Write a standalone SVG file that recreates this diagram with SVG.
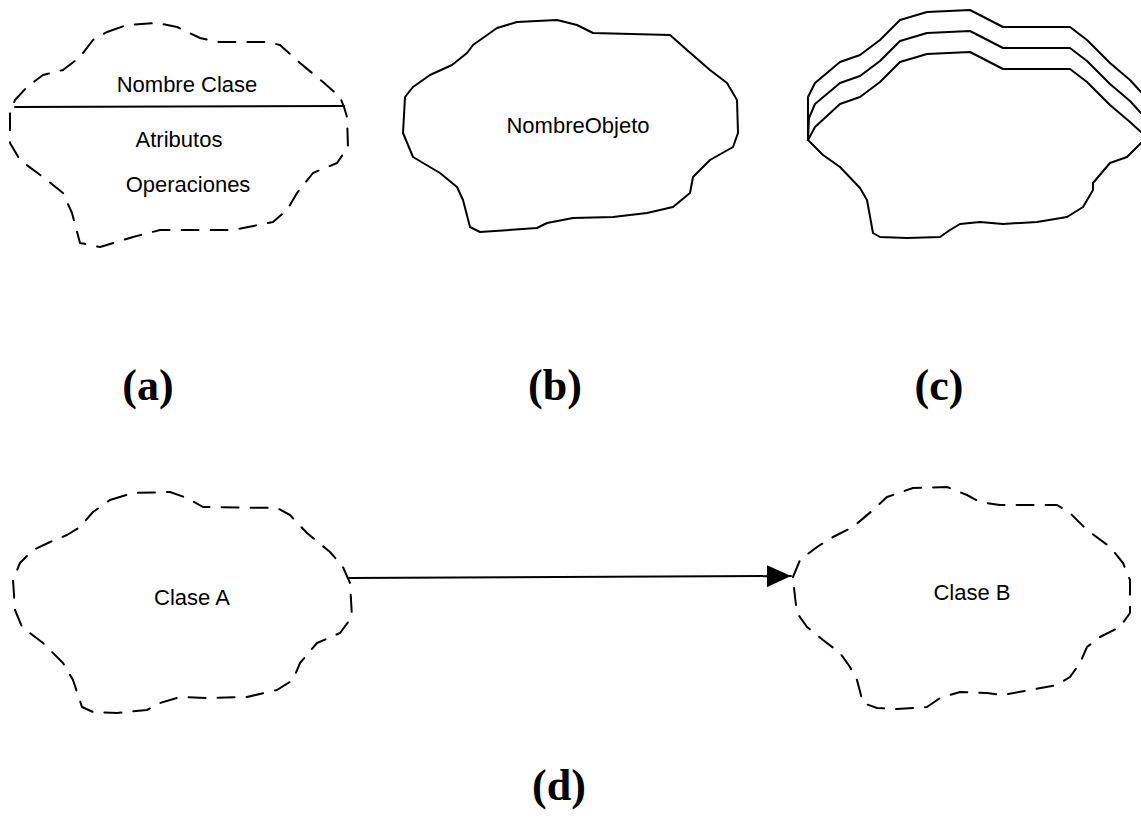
<svg xmlns="http://www.w3.org/2000/svg" width="1141" height="818" viewBox="0 0 1141 818">
<style>
.bg{fill:#fff}
.dash{fill:none;stroke:#000;stroke-width:2;stroke-dasharray:17 12;stroke-linejoin:round;stroke-linecap:round}
.solid{fill:none;stroke:#000;stroke-width:2;stroke-linejoin:round;stroke-linecap:round}
.lbl{font-family:"Liberation Sans",Arial,sans-serif;font-size:22px;fill:#000;text-anchor:middle}
.cap{font-family:"Liberation Serif","Times New Roman",serif;font-size:44px;font-weight:bold;fill:#000;text-anchor:middle}
</style>
<defs>
<marker id="arr" markerUnits="userSpaceOnUse" markerWidth="24" markerHeight="22" refX="24" refY="11" orient="auto">
<path d="M0,0 L24,11 L0,22 Z" fill="#000"/>
</marker>
</defs>
<rect class="bg" x="0" y="0" width="1141" height="818"/>

<g id="node-a">
<path class="dash" d="M107,32 L127,25 L157,23 L177,27 L200,38 L217,42 L267,42 L280,45 L300,63 L323,82 L340,97 L344,107 L347,117 L348,147 L337,163 L313,173 L297,193 L287,210 L273,222 L233,230 L200,230 L160,230 L133,237 L100,247 L80,243 L72,213 L63,193 L43,177 L20,160 L10,143 L10,113 L15,100 L27,87 L43,75 L63,70 L80,57 L93,40 Z"/>
<path class="solid" d="M15,107 L344,106"/>
<text class="lbl" x="187" y="92">Nombre Clase</text>
<text class="lbl" x="179" y="147">Atributos</text>
<text class="lbl" x="188" y="192">Operaciones</text>
</g>

<g id="node-b">
<path class="solid" d="M473,45 L497,28 L517,22 L557,20 L577,25 L593,33 L670,35 L687,50 L710,70 L727,83 L737,100 L738,133 L733,147 L710,160 L693,177 L690,193 L673,207 L647,213 L613,217 L573,218 L547,223 L537,228 L480,232 L470,227 L463,200 L457,187 L440,173 L413,157 L403,133 L405,97 L413,87 L430,75 L452,65 L467,53 Z"/>
<text class="lbl" x="578" y="133">NombreObjeto</text>
</g>

<g id="node-c">
<path class="solid" d="M1141,143 L1127,157 L1110,163 L1093,183 L1093,190 L1083,207 L1067,217 L1037,222 L1003,224 L980,222 L960,224 L950,230 L940,237 L907,238 L880,237 L873,233 L867,200 L860,188 L840,167 L823,155 L808,140"/>
<path class="solid" d="M808,140 L808,97 L815,83 L840,62 L860,55 L880,40 L900,20 L927,12 L970,10 L1003,27 L1070,27 L1087,40 L1110,63 L1130,80 L1141,92"/>
<path class="solid" d="M808,140 L809,118 L815,104 L840,83 L860,76 L880,61 L900,41 L927,33 L970,31 L1003,48 L1070,48 L1087,61 L1110,84 L1130,101 L1141,113"/>
<path class="solid" d="M808,140 L815,127 L840,104 L860,97 L880,82 L900,62 L927,54 L970,52 L1003,69 L1070,69 L1087,82 L1110,105 L1130,122 L1141,132"/>
</g>

<g id="node-classA">
<path class="dash" d="M110,500 L133,493 L170,492 L187,498 L203,507 L277,508 L290,515 L307,533 L330,552 L343,567 L350,583 L352,617 L340,633 L317,643 L300,663 L293,680 L277,690 L247,697 L207,698 L180,697 L160,703 L147,710 L117,713 L93,712 L82,707 L73,680 L63,663 L43,643 L22,627 L15,610 L13,580 L20,563 L33,550 L50,542 L67,535 L80,527 L93,512 Z"/>
<text class="lbl" x="192" y="605">Clase A</text>
</g>

<g id="node-classB">
<path class="dash" d="M793,577 L800,560 L817,547 L833,537 L853,527 L873,510 L887,497 L913,488 L947,487 L967,495 L980,502 L1000,505 L1057,505 L1070,513 L1087,530 L1110,547 L1123,563 L1130,580 L1130,613 L1120,627 L1100,637 L1087,647 L1080,663 L1070,677 L1057,685 L1030,690 L1003,695 L987,693 L960,692 L940,698 L927,707 L897,709 L877,708 L863,703 L857,680 L850,667 L840,653 L823,640 L807,627 L797,613 L795,597 Z"/>
<text class="lbl" x="972" y="600">Clase B</text>
</g>

<g id="connectors">
<path class="solid" d="M349,578 L791,576" marker-end="url(#arr)"/>
</g>

<g id="captions">
<text class="cap" x="148" y="400">(a)</text>
<text class="cap" x="555" y="400">(b)</text>
<text class="cap" x="939" y="400">(c)</text>
<text class="cap" x="559" y="800">(d)</text>
</g>
</svg>
